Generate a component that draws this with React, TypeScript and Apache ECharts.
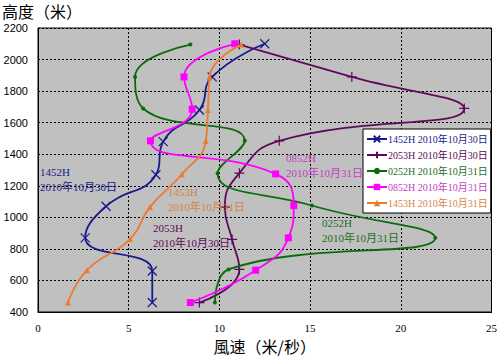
import React, { useEffect, useRef } from "react";
import * as echarts from "echarts";

const seriesNames = [
  "1452H 2010年10月30日",
  "2053H 2010年10月30日",
  "0252H 2010年10月31日",
  "0852H 2010年10月31日",
  "1453H 2010年10月31日",
];
const heights1452 = [460, 660, 870, 1070, 1270, 1480, 1680, 1890, 2100];
const speed1452 = [6.3, 6.3, 2.6, 3.75, 6.5, 6.9, 8.9, 9.6, 12.5];
const heights2053 = [460, 670, 860, 1065, 1280, 1485, 1690, 1890, 2095];
const speed2053 = [8.9, 11.1, 10.7, 10.3, 11.1, 13.3, 23.5, 17.3, 11.1];
const heights0252 = [460, 670, 870, 1075, 1280, 1485, 1690, 1890, 2095];
const speed0252 = [9.75, 10.5, 21.9, 15.1, 9.9, 11.4, 5.8, 5.35, 8.4];
const heights0852 = [460, 665, 870, 1075, 1275, 1485, 1685, 1890, 2100];
const speed0852 = [8.4, 12.0, 13.8, 14.1, 13.1, 6.2, 8.5, 8.05, 10.85];
const heights1453 = [460, 665, 862, 1065, 1273, 1485, 1680, 1890, 2095];
const speed1453 = [1.65, 2.7, 5.07, 6.17, 7.93, 9.25, 9.37, 9.45, 11.2];

const colors = ["#1a1a8c", "#5c0a5c", "#0b6b0b", "#ff00ff", "#ee7a2e"];
const textColors = ["#1a1a8c", "#5c0a5c", "#1e6e1e", "#c040c0", "#d9843f"];

const annotations = [
  { t1: "1452H", t2: "2010年10月30日", x: 40, y: 166, c: 0 },
  { t1: "1453H", t2: "2010年10月31日", x: 168, y: 186, c: 4 },
  { t1: "2053H", t2: "2010年10月30日", x: 153, y: 222, c: 1 },
  { t1: "0852H", t2: "2010年10月31日", x: 286, y: 152, c: 3 },
  { t1: "0252H", t2: "2010年10月31日", x: 322, y: 217, c: 2 },
];

const serif = "'Liberation Serif', 'DejaVu Serif', 'Noto Sans CJK SC', serif";
const sans = "'Liberation Sans', Arial, sans-serif";
const cjk = "'Noto Sans CJK SC', 'Noto Sans CJK TC', sans-serif";

function pairs(xs: number[], ys: number[]) {
  return xs.map((x, i) => [x, ys[i]]);
}

export default function App() {
  const ref = useRef<HTMLDivElement>(null);
  useEffect(() => {
    document.body.style.margin = "0";
    if (!ref.current) return;
    const chart = echarts.init(ref.current, null, { renderer: "svg" });
    const symbols = [
      "path://M0,0L10,10M0,10L10,0",
      "path://M5,0L5,10M0,5L10,5",
      "circle",
      "rect",
      "triangle",
    ];
    const sizes = [9, 10, 4, 7, 6];
    const datas = [
      pairs(speed1452, heights1452),
      pairs(speed2053, heights2053),
      pairs(speed0252, heights0252),
      pairs(speed0852, heights0852),
      pairs(speed1453, heights1453),
    ];
    const series = datas.map((d, i) => ({
      name: seriesNames[i],
      type: "line",
      data: d,
      smooth: 0.5,
      symbol: symbols[i],
      symbolSize: sizes[i],
      showAllSymbol: true,
      lineStyle: { color: colors[i], width: 1.8 },
      itemStyle: {
        color: colors[i],
        borderColor: colors[i],
        borderWidth: i < 2 ? 1.2 : 0,
      },
      z: 3 + i,
    }));
    const graphics: any[] = [
      {
        type: "text",
        left: 2,
        top: 3,
        style: { text: "高度（米）", fill: "#000", font: `16px ${cjk}` },
        z: 100,
      },
    ];
    annotations.forEach((a) => {
      graphics.push({
        type: "text",
        left: a.x,
        top: a.y,
        style: { text: a.t1, fill: textColors[a.c], font: `11px ${serif}` },
        z: 100,
      });
      graphics.push({
        type: "text",
        left: a.x,
        top: a.y + 15,
        style: { text: a.t2, fill: textColors[a.c], font: `11px ${serif}` },
        z: 100,
      });
    });
    chart.setOption({
      animation: false,
      backgroundColor: "#ffffff",
      grid: {
        left: 38,
        right: 8,
        top: 28,
        bottom: 52,
        show: true,
        backgroundColor: "#c0c0c0",
        borderColor: "#000",
        borderWidth: 1,
      },
      legend: {
        orient: "vertical",
        left: 363,
        top: 129,
        backgroundColor: "#ffffff",
        borderColor: "#000",
        borderWidth: 1,
        padding: [4, 3, 4, 3],
        itemGap: 4,
        itemWidth: 20,
        itemHeight: 8,
        data: seriesNames.map((n, i) => ({
          name: n,
          textStyle: { color: textColors[i] },
        })),
        textStyle: { fontFamily: serif, fontSize: 10, lineHeight: 12, padding: [0, 0, 0, -4] },
      },
      xAxis: {
        type: "value",
        min: 0,
        max: 25,
        interval: 5,
        name: "風速（米/秒）",
        nameLocation: "middle",
        nameGap: 24,
        nameTextStyle: { fontFamily: cjk, fontSize: 16, color: "#000" },
        axisLine: { show: true, lineStyle: { color: "#000" } },
        axisTick: { show: false },
        axisLabel: {
          color: "#000",
          fontFamily: serif,
          fontSize: 11,
          margin: 10,
          formatter: (v: number) => String(v),
        },
        splitLine: { show: true, lineStyle: { color: "#000", type: [2, 2], width: 1 } },
      },
      yAxis: {
        type: "value",
        min: 400,
        max: 2200,
        interval: 200,
        axisLine: { show: true, lineStyle: { color: "#000" } },
        axisTick: { show: false },
        axisLabel: {
          color: "#000",
          fontFamily: sans,
          fontSize: 11,
          margin: 10,
          formatter: (v: number) => String(v),
        },
        splitLine: { show: true, lineStyle: { color: "#000", type: [2, 2], width: 1 } },
      },
      series,
      graphic: graphics,
    });
    return () => chart.dispose();
  }, []);
  return <div ref={ref} style={{ width: 500, height: 364 }} />;
}
